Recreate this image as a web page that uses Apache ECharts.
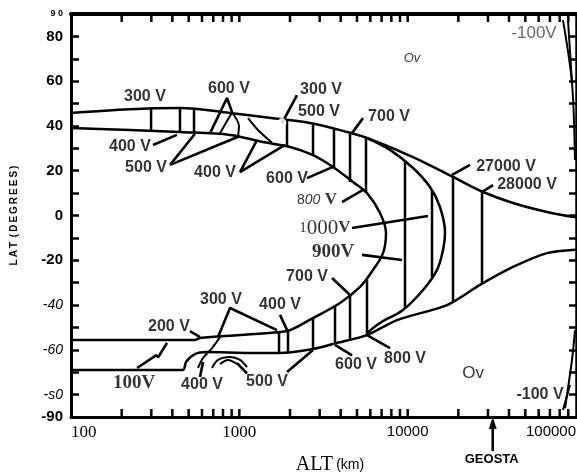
<!DOCTYPE html>
<html>
<head>
<meta charset="utf-8">
<script src="https://cdn.jsdelivr.net/npm/echarts@6.0.0/dist/echarts.min.js"></script>
<style>
html, body { margin: 0; background: #fff; }
#chart { width: 577px; height: 472px; }
</style>
</head>
<body>
<div id="chart"></div>
<script>
// all points are [altitude km, latitude deg]
const outerNorth = [[100,45.8],[224,47.5],[444,48.0],[880,45.8],[1744,43.1],[2629,41.3],[4362,37.3],[5734,34.6],[10760,26.1],[18600,17.2],[28030,10.5],[42250,5.6],[67250,1.6],[100000,-0.8]]
const innerBoundary = [[100,39.1],[224,38.2],[444,37.3],[880,36.0],[1382,32.8],[2000,30.6],[2740,27.0],[3601,21.7],[4735,15.0],[5734,10.0],[6850,1.1],[7436,-7.8],[7137,-16.8],[6226,-24.3],[5212,-31.9],[3963,-39.1],[2740,-45.8],[2000,-51.2],[1674,-52.1],[1009,-53.4],[584,-54.7],[545,-55.6],[100,-55.6]]
const crescent = [[5734,34.6],[7855,29.3],[10760,21.2],[13570,12.7],[15560,3.8],[16670,-7.8],[16220,-15.4],[14940,-24.3],[12340,-33.3],[9383,-42.2],[6850,-48.0],[5734,-52.5]]
const outerSouth = [[100,-69.0],[463,-69.0],[482,-65.4],[545,-61.9],[643,-61.0],[1157,-61.4],[1744,-61.4],[2740,-59.6],[3804,-56.9],[5734,-53.4],[8645,-46.7],[17130,-40.0],[26900,-31.0],[42250,-23.0],[67250,-16.8],[100000,-15.3]]

// [altitude, top lat, bottom lat]
const bandLines = [
    [299,47.6,38.2],[444,48.0,37.3],[538,47.4,36.8],[1920,42.7,30.6],[2740,41.3,27.0],[3651,39.0,21.7],[4545,37.0,15.0],[5656,34.8,10.2],
    [9643,24.0,-41.3],[13950,10.9,-27.5],[18600,17.4,-38.6],[27650,10.6,-30.4],
    [1721,-52.1,-61.4],[1946,-51.4,-61.2],[2740,-45.8,-59.6],[3702,-40.3,-56.5],[4545,-35.5,-55.4],[5734,-28.5,-53.4]
]

const contours = [
    [[768,36.8],[905,46.0]],
    [[905,46.0],[995,40.0],[982,35.3]],
    [[1126,43.5],[1291,38.2],[1563,32.5]],
    [[768,-54.3],[688,-59.2],[609,-63.6],[568,-68.1]],
    [[688,-68.1],[747,-64.5],[880,-63.2],[1009,-64.5],[1111,-67.7]],
    [[768,-66.3],[857,-64.5],[969,-66.3]],
    [[83720,87.3],[94680,59.2],[98650,24.8]],
    [[89650,87.3],[94680,59.2]],
    [[86050,-86.0],[94680,-64.5],[98650,-51.2]],
    [[83720,-86.9],[92120,-75.7]]
]

const pointers = [
    [[307,31.5],[426,36.0]],
    [[388,22.6],[545,36.5]],
    [[388,22.6],[1009,35.5]],
    [[1009,19.4],[1273,33.7]],
    [[1009,19.4],[1868,31.5]],
    [[670,36.8],[845,52.5],[905,46.2]],
    [[2523,16.7],[3601,21.7]],
    [[2201,53.8],[1792,41.3]],
    [[5429,43.5],[4671,36.8]],
    [[23460,22.6],[18340,18.1]],
    [[32140,13.6],[27650,10.5]],
    [[4073,6.0],[5429,11.4]],
    [[4671,-5.6],[13210,-0.2]],
    [[5355,-17.6],[9256,-19.9]],
    [[3552,-27.9],[4545,-35.5]],
    [[747,-54.3],[880,-41.3],[1674,-51.2]],
    [[1744,-44.4],[1946,-52.1]],
    [[509,-51.6],[584,-54.3]],
    [[247,-68.1],[320,-62.5],[330,-63.2],[372,-56.9]],
    [[584,-72.1],[609,-65.4]],
    [[1111,-70.5],[969,-65.9]],
    [[1920,-69.9],[2740,-60.1]],
    [[4671,-62.5],[3702,-57.8]],
    [[7855,-59.2],[5734,-53.4]]
]
const circleMarks = [[1792,41.5]]

const sansLabels = [
    ['300 V',275,52.9],['600 V',868,56.9],['400 V',224,30.6],['500 V',279,21.2],['400 V',717,19.0],
    ['600 V',1920,16.3],['300 V',3057,56.1],['500 V',2974,46.2],['700 V',7747,44.0],
    ['27000 V',38400,21.7],['28000 V',51170,13.6],['700 V',2523,-27.5],
    ['300 V',778,-37.7],['400 V',1744,-40.0],['200 V',382,-49.8],['400 V',600,-75.7],
    ['500 V',1460,-74.4],['600 V',4934,-66.8],['800 V',9643,-64.1],['-100 V',61100,-80.2]
]
const serifLabels = [['100V',237,-74.8],['900V',3601,-16.3]]
const richLabels = [
    ['{s|1}{n|000}{v|V}',3228,-5.6],
    ['{a|8}{i|00}{v| V}',2893,6.9],
    ['{t|Ov}',10610,70.3],
    ['{o|Ov}',24450,-70.3],
    ['{g|-100V}',56300,81.5]
]

const xTickAlts = [200,300,400,500,600,700,800,900,1000,2000,3000,4000,5000,6000,7000,8000,9000,10000,20000,30000,40000,50000,60000,70000,80000,90000]
const yTickValues = [90,80,60,40,20,0,-20,-40,-60,-80,-90]
const yTickTexts = ['9 0','80','60','40','20','0','-20','-40','-60','-s0','-90']
const geostaAlt = 32000

const SANS = '"Liberation Sans", Arial, sans-serif'
const SERIF = '"Liberation Serif", "Times New Roman", serif'

const chart = echarts.init(document.getElementById('chart'))

const polyline = (data, width, smooth) => ({
    type: 'line',
    data,
    symbol: 'none',
    smooth: smooth || 0,
    silent: true,
    z: 3,
    lineStyle: { color: '#000', width }
})

const series = [
    polyline(outerNorth, 2.5, 0.35),
    polyline(innerBoundary, 2.5, 0.35),
    polyline(crescent, 2.5, 0.35),
    polyline(outerSouth, 2.5, 0.25)
]
bandLines.forEach(b => series.push(polyline([[b[0], b[1]], [b[0], b[2]]], 2.5)))
contours.forEach(c => series.push(polyline(c, 2, 0.3)))
pointers.forEach(p => series.push(polyline(p, 2.6)))

series.push({
    type: 'scatter',
    silent: true,
    data: circleMarks,
    symbol: 'emptyCircle',
    symbolSize: 7,
    itemStyle: { color: '#fff', borderColor: '#000', borderWidth: 2 },
    z: 4
})

const labelSeries = (list, style) => ({
    type: 'scatter',
    silent: true,
    symbolSize: 0,
    z: 5,
    data: list.map(d => ({ value: [d[1], d[2]], name: d[0] })),
    label: Object.assign({ show: true, position: 'inside', formatter: '{b}', color: '#000' }, style)
})
series.push(labelSeries(sansLabels, { fontFamily: SANS, fontSize: 16, fontWeight: 'bold' }))
series.push(labelSeries(serifLabels, { fontFamily: SERIF, fontSize: 19, fontWeight: 'bold' }))
series.push(labelSeries(richLabels, {
    rich: {
        s: { fontFamily: SERIF, fontSize: 15, color: '#000' },
        n: { fontFamily: SERIF, fontSize: 21, color: '#000' },
        v: { fontFamily: SERIF, fontSize: 17, fontWeight: 'bold', color: '#000' },
        a: { fontFamily: SANS, fontSize: 14, color: '#000' },
        i: { fontFamily: SANS, fontSize: 14, fontStyle: 'italic', color: '#000' },
        t: { fontFamily: SANS, fontSize: 13, fontStyle: 'italic', color: '#000' },
        o: { fontFamily: SANS, fontSize: 17, color: '#000' },
        g: { fontFamily: SANS, fontSize: 17, color: '#444' }
    }
}))

// axis ticks on the log axis (bottom and top frame)
series.push({
    type: 'custom',
    silent: true,
    clip: false,
    z: 6,
    data: xTickAlts.map(a => [a]),
    renderItem: (params, api) => {
        const lo = api.coord([api.value(0), -90])
        const hi = api.coord([api.value(0), 90])
        return {
            type: 'group',
            children: [
                { type: 'line', shape: { x1: lo[0], y1: lo[1], x2: lo[0], y2: lo[1] - 8 }, style: { stroke: '#000', lineWidth: 2.5 } },
                { type: 'line', shape: { x1: hi[0], y1: hi[1], x2: hi[0], y2: hi[1] + 8 }, style: { stroke: '#000', lineWidth: 2.5 } }
            ]
        }
    }
})

const xLabel = v => {
    if (v === 100 || v === 1000) return '{r|' + v + '}'
    return '{h|' + v + '}'
}
const yLabel = v => {
    const k = yTickValues.indexOf(v)
    if (k < 0) return ''
    const t = yTickTexts[k]
    if (v === 90) return '{s|' + t + '}'
    if (v <= -40 && v >= -80) return '{i|' + t + '}'
    return '{b|' + t + '}'
}

const option = {
    animation: false,
    backgroundColor: '#fff',
    grid: { left: 71, right: 1, top: 14, bottom: 55, containLabel: false, outerBoundsMode: 'none' },
    xAxis: [
        {
            type: 'log',
            logBase: 10,
            min: 100,
            max: 100000,
            position: 'bottom',
            axisLine: { show: true, onZero: false, lineStyle: { color: '#000', width: 3 } },
            axisTick: { show: false },
            minorTick: { show: false },
            splitLine: { show: false },
            axisLabel: {
                margin: 7,
                alignMinLabel: 'left',
                alignMaxLabel: 'right',
                formatter: xLabel,
                rich: {
                    r: { fontFamily: SERIF, fontSize: 17, color: '#000' },
                    h: { fontFamily: SANS, fontSize: 15, color: '#000' }
                }
            }
        },
        {
            type: 'log',
            logBase: 10,
            min: 100,
            max: 100000,
            position: 'top',
            axisLine: { show: true, onZero: false, lineStyle: { color: '#000', width: 4 } },
            axisTick: { show: false },
            axisLabel: { show: false },
            splitLine: { show: false }
        }
    ],
    yAxis: [
        {
            type: 'value',
            min: -90,
            max: 90,
            interval: 10,
            position: 'left',
            name: 'L\u2009A\u2009T\u2009 (\u2009D\u2009E\u2009G\u2009R\u2009E\u2009E\u2009S\u2009)',
            nameLocation: 'middle',
            nameGap: 52,
            nameTextStyle: { fontFamily: SANS, fontSize: 10, fontWeight: 'bold', color: '#000' },
            axisLine: { show: true, onZero: false, lineStyle: { color: '#000', width: 3 } },
            axisTick: { show: true, inside: true, length: 8, lineStyle: { color: '#000', width: 2.5 } },
            splitLine: { show: false },
            axisLabel: {
                margin: 8,
                formatter: yLabel,
                rich: {
                    b: { fontFamily: SANS, fontSize: 15, fontWeight: 'bold', color: '#000' },
                    i: { fontFamily: SANS, fontSize: 14, fontStyle: 'italic', color: '#000' },
                    s: { fontFamily: SANS, fontSize: 9, fontWeight: 'bold', color: '#000' }
                }
            }
        },
        {
            type: 'value',
            min: -90,
            max: 90,
            interval: 10,
            position: 'right',
            axisLine: { show: true, onZero: false, lineStyle: { color: '#000', width: 2.5 } },
            axisTick: { show: true, inside: true, length: 7, lineStyle: { color: '#000', width: 2.5 } },
            axisLabel: { show: false },
            splitLine: { show: false }
        }
    ],
    series
}

chart.setOption(option)

const gx = chart.convertToPixel({ xAxisIndex: 0 }, geostaAlt)
chart.setOption({
    graphic: [
        {
            type: 'text',
            x: 330,
            y: 465,
            style: {
                text: '{a|ALT} {b|(km)}',
                align: 'center',
                verticalAlign: 'middle',
                rich: {
                    a: { fontFamily: SERIF, fontSize: 20, fill: '#000' },
                    b: { fontFamily: SANS, fontSize: 14, fill: '#000' }
                }
            }
        },
        {
            type: 'line',
            shape: { x1: gx, y1: 451, x2: gx, y2: 424 },
            style: { stroke: '#000', lineWidth: 2.5 }
        },
        {
            type: 'polygon',
            shape: { points: [[gx, 417], [gx - 4, 429], [gx + 4, 429]] },
            style: { fill: '#000' }
        },
        {
            type: 'text',
            x: gx - 1,
            y: 459,
            style: {
                text: 'GEOSTA',
                align: 'center',
                verticalAlign: 'middle',
                fontFamily: SANS,
                fontSize: 13,
                fontWeight: 'bold',
                fill: '#000'
            }
        }
    ]
})
</script>
</body>
</html>
